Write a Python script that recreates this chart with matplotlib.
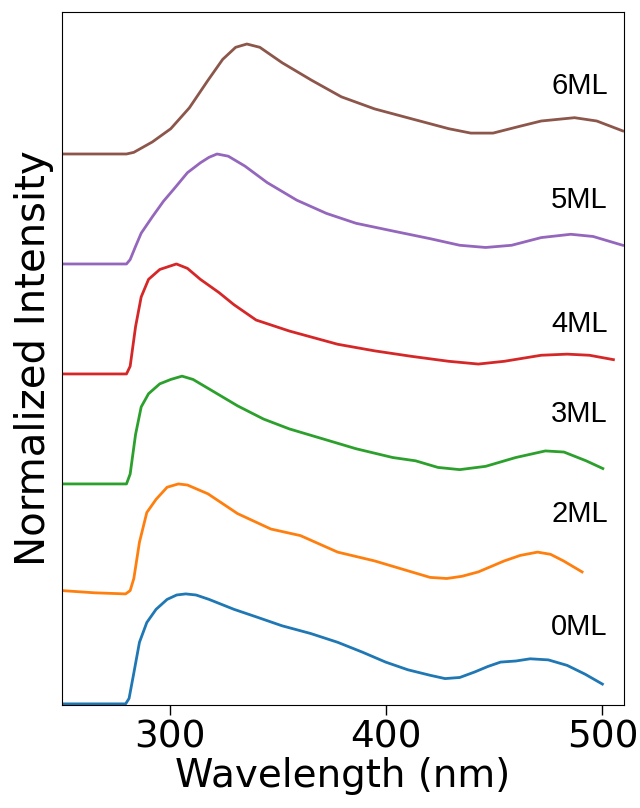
import matplotlib
matplotlib.use("Agg")
import matplotlib.pyplot as plt

# ---- data (normalized intensity) ----
labels = ["0ML", "2ML", "3ML", "4ML", "5ML", "6ML"]
colors = ["#1f77b4", "#ff7f0e", "#2ca02c", "#d62728", "#9467bd", "#8c564b"]
offsets = [0, 1, 2, 3, 4, 5]

wl_0ml = [250, 265, 279.4, 281, 283, 285.8, 289.2, 293.5, 298.6, 303, 307.2, 312, 318, 329.5, 340, 351.8, 365,
          377.5, 389, 399.7, 410, 420.3, 427.2, 434, 440.9, 447, 452.9, 460, 466.6, 475, 483.7, 492, 500]
v_0ml = [0.0, 0.0, 0.0, 0.05, 0.26, 0.56, 0.74, 0.86, 0.95, 0.99, 1.0, 0.99, 0.95, 0.86, 0.79, 0.71, 0.64,
         0.56, 0.47, 0.38, 0.31, 0.26, 0.23, 0.24, 0.29, 0.34, 0.38, 0.39, 0.41, 0.40, 0.35, 0.27, 0.18]

wl_2ml = [250, 265, 279.4, 281.5, 283.2, 285.8, 289.2, 293.5, 298.6, 303.8, 308, 317.5, 331.2, 346.6,
          360.3, 377.5, 394.6, 410, 420.3, 428, 435, 442.6, 454.6, 462, 470, 476, 482, 490.6]
v_2ml = [0.03, 0.01, 0.0, 0.03, 0.14, 0.47, 0.74, 0.86, 0.97, 1.0, 0.99, 0.91, 0.73, 0.59,
         0.53, 0.38, 0.30, 0.21, 0.15, 0.14, 0.16, 0.20, 0.30, 0.35, 0.38, 0.36, 0.30, 0.20]

wl_3ml = [250, 265, 279.8, 281.5, 284, 286.6, 290, 295.2, 300.3, 305.5, 310.6, 319.2, 331.2, 343.2,
          355.2, 368.9, 386, 403, 413.6, 423.9, 434, 446, 459.9, 473.6, 482.2, 492.5, 500.2]
v_3ml = [0.0, 0.0, 0.0, 0.09, 0.45, 0.70, 0.82, 0.91, 0.95, 0.98, 0.95, 0.85, 0.71, 0.59,
         0.50, 0.42, 0.32, 0.24, 0.21, 0.15, 0.13, 0.16, 0.24, 0.30, 0.29, 0.21, 0.14]

wl_4ml = [250, 265, 279.8, 281.5, 284, 286.6, 290, 295.2, 302.9, 308, 314, 322.6, 329.5, 339.8,
          355.2, 377.5, 394.6, 411.7, 428.9, 442.6, 454.6, 471.7, 483.7, 494, 505.1]
v_4ml = [0.0, 0.0, 0.0, 0.07, 0.43, 0.70, 0.86, 0.95, 1.0, 0.96, 0.86, 0.74, 0.63, 0.49,
         0.39, 0.27, 0.21, 0.16, 0.115, 0.09, 0.115, 0.17, 0.18, 0.17, 0.13]

wl_5ml = [250, 265, 279.8, 281.5, 284, 286.6, 291.8, 296.9, 302.1, 308, 314, 318, 321.7, 326.9, 334.6,
          344.9, 358.6, 372.3, 386, 403, 420.3, 434, 446, 458, 471.7, 485.4, 495.7, 509.4]
v_5ml = [0.0, 0.0, 0.0, 0.04, 0.16, 0.28, 0.43, 0.57, 0.69, 0.83, 0.92, 0.97, 1.0, 0.98, 0.89,
         0.74, 0.58, 0.46, 0.37, 0.30, 0.23, 0.17, 0.15, 0.17, 0.24, 0.27, 0.25, 0.17]

wl_6ml = [250, 265, 279.8, 283.2, 291.8, 300.3, 308.9, 317.5, 324.3, 330.3, 335.5, 341.5, 351.8,
          365.5, 379.2, 394.6, 411.7, 428.9, 439.1, 449.4, 461.4, 471.7, 487.1, 497.4, 509.4]
v_6ml = [0.0, 0.0, 0.0, 0.015, 0.11, 0.23, 0.42, 0.67, 0.86, 0.97, 1.0, 0.97, 0.83,
         0.67, 0.52, 0.41, 0.32, 0.23, 0.19, 0.19, 0.25, 0.30, 0.33, 0.30, 0.21]

series_wl = [wl_0ml, wl_2ml, wl_3ml, wl_4ml, wl_5ml, wl_6ml]
series_v = [v_0ml, v_2ml, v_3ml, v_4ml, v_5ml, v_6ml]

# label positions (data coords)
label_x = [502.5, 502.5, 502.5, 502.5, 502.5, 502.5]
label_y = [0.70, 1.73, 2.64, 3.45, 4.58, 5.62]

x_ticks = [300, 400, 500]

# ---- plot ----
fig = plt.figure(figsize=(6.4, 8.08), dpi=100)
ax = fig.add_axes([0.097, 0.1275, 0.878, 0.8575])

for wl, v, off, c in zip(series_wl, series_v, offsets, colors):
    ax.plot(wl, [val + off for val in v], color=c, lw=2)

for lab, lx, ly in zip(labels, label_x, label_y):
    ax.text(lx, ly, lab, ha="right", va="center", fontsize=21,
            family=["Liberation Sans", "DejaVu Sans"])

ax.set_xlim(250, 510)
ax.set_ylim(-0.01, 6.29)
ax.set_xticks(x_ticks)
ax.set_yticks([])
ax.tick_params(axis="x", labelsize=27, length=7, width=1)
ax.set_xlabel("Wavelength (nm)", fontsize=28, labelpad=1)
ax.set_ylabel("Normalized Intensity", fontsize=29, labelpad=6)

fig.savefig("out.png", dpi=100)
